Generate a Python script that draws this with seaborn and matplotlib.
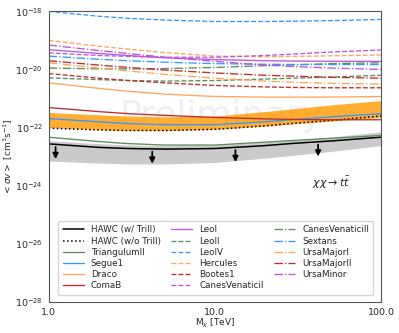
import numpy as np
import pandas as pd
import matplotlib
matplotlib.use("Agg")
import matplotlib.pyplot as plt
import matplotlib.ticker as mticker
import seaborn as sns

# masses in TeV
mass = [1.0, 2.0, 3.0, 5.0, 10.0, 20.0, 30.0, 50.0, 100.0]

# log10(<sigma v>) limits
hawc_trill = [-22.56, -22.68, -22.72, -22.74, -22.72, -22.62, -22.54, -22.46, -22.33]
hawc_trill_lo = [-23.15, -23.22, -23.25, -23.25, -23.2, -23.05, -22.95, -22.82, -22.62]
hawc_trill_hi = [-22.45, -22.55, -22.6, -22.62, -22.6, -22.5, -22.42, -22.32, -22.15]
hawc_notrill = [-22.02, -22.08, -22.1, -22.1, -22.06, -21.94, -21.85, -21.75, -21.6]
draco_lo = [-22.0, -22.07, -22.1, -22.1, -22.06, -21.95, -21.87, -21.78, -21.65]
draco_hi = [-21.48, -21.56, -21.6, -21.63, -21.6, -21.45, -21.35, -21.22, -21.07]

dwarfs = ["TriangulumII", "Segue1", "Draco", "ComaB", "LeoI", "LeoII", "LeoIV",
          "Hercules", "Bootes1", "CanesVenaticiI", "CanesVenaticiII", "Sextans",
          "UrsaMajorI", "UrsaMajorII", "UrsaMinor"]
dwarf_limits = {
    "TriangulumII": [-22.33, -22.48, -22.55, -22.6, -22.6, -22.5, -22.44, -22.37, -22.27],
    "Segue1": [-21.69, -21.8, -21.86, -21.9, -21.9, -21.8, -21.72, -21.63, -21.52],
    "Draco": [-20.46, -20.65, -20.75, -20.85, -20.93, -20.95, -20.95, -20.95, -20.93],
    "ComaB": [-21.31, -21.45, -21.52, -21.58, -21.65, -21.7, -21.72, -21.73, -21.73],
    "LeoI": [-19.32, -19.45, -19.52, -19.6, -19.66, -19.7, -19.71, -19.72, -19.72],
    "LeoII": [-20.29, -20.35, -20.38, -20.4, -20.38, -20.33, -20.3, -20.26, -20.2],
    "LeoIV": [-18.0, -18.17, -18.24, -18.3, -18.35, -18.35, -18.34, -18.32, -18.28],
    "Hercules": [-19.0, -19.2, -19.3, -19.42, -19.54, -19.56, -19.55, -19.53, -19.5],
    "Bootes1": [-20.14, -20.3, -20.38, -20.46, -20.55, -20.6, -20.62, -20.63, -20.63],
    "CanesVenaticiI": [-19.43, -19.52, -19.55, -19.58, -19.58, -19.52, -19.47, -19.4, -19.33],
    "CanesVenaticiII": [-19.95, -19.98, -19.98, -19.97, -19.93, -19.87, -19.84, -19.8, -19.77],
    "Sextans": [-19.54, -19.65, -19.7, -19.75, -19.8, -19.82, -19.83, -19.83, -19.83],
    "UrsaMajorI": [-19.77, -19.95, -20.05, -20.17, -20.3, -20.4, -20.44, -20.48, -20.5],
    "UrsaMajorII": [-19.7, -19.85, -19.93, -20.02, -20.12, -20.2, -20.23, -20.27, -20.3],
    "UrsaMinor": [-19.16, -19.35, -19.45, -19.58, -19.72, -19.85, -19.9, -19.95, -20.0],
}
arrow_mass = [1.1, 4.2, 13.3, 41.8]
y_ticks = [1e-28, 1e-26, 1e-24, 1e-22, 1e-20, 1e-18]
x_ticks = [1.0, 10.0, 100.0]

green, blue, orange, red, purple = "#5b8c5a", "#3399ff", "#ffa55c", "#bf2b2b", "#bb55dd"
styles = {
    "TriangulumII": (green, "-"), "Segue1": (blue, "-"), "Draco": (orange, "-"),
    "ComaB": (red, "-"), "LeoI": (purple, "-"), "LeoII": (green, "--"),
    "LeoIV": (blue, "--"), "Hercules": (orange, "--"), "Bootes1": (red, "--"),
    "CanesVenaticiI": (purple, "--"), "CanesVenaticiII": (green, "-."),
    "Sextans": (blue, "-."), "UrsaMajorI": (orange, "-."), "UrsaMajorII": (red, "-."),
    "UrsaMinor": (purple, "-."),
}

# smooth curves through the read points (log-log)
fine = np.logspace(0, 2, 120)


def smooth(vals):
    return 10 ** np.interp(np.log10(fine), np.log10(mass), vals)


sns.set_style("white")
plt.rcParams["font.family"] = ["DejaVu Sans"]
fig, ax = plt.subplots(figsize=(3.99, 3.33), dpi=100)

ax.fill_between(fine, smooth(hawc_trill_lo), smooth(hawc_trill_hi), color="#bdbdbd", alpha=0.8, lw=0)
ax.fill_between(fine, smooth(draco_lo), smooth(draco_hi), color="#ff9900", alpha=0.8, lw=0)

sns.lineplot(x=fine, y=smooth(hawc_trill), ax=ax, color="black", lw=1.1, label="HAWC (w/ Trill)")
sns.lineplot(x=fine, y=smooth(hawc_notrill), ax=ax, color="black", lw=1.1, ls=":", label="HAWC (w/o Trill)")
for name in dwarfs:
    c, ls = styles[name]
    sns.lineplot(x=fine, y=smooth(dwarf_limits[name]), ax=ax, color=c, ls=ls, lw=0.95, label=name)

arr_y = 10 ** np.interp(np.log10(arrow_mass), np.log10(mass), hawc_trill)
for xm, ym in zip(arrow_mass, arr_y):
    ax.annotate("", xy=(xm, ym / 4.0), xytext=(xm, ym),
                arrowprops=dict(arrowstyle="-|>", color="black", lw=1.3, mutation_scale=8))

ax.set_xscale("log")
ax.set_yscale("log")
ax.set_xlim(1, 100)
ax.set_ylim(1e-28, 1e-18)
ax.set_xticks(x_ticks)
ax.set_xticklabels([f"{v:.1f}" for v in x_ticks])
ax.xaxis.set_minor_formatter(mticker.NullFormatter())
ax.set_yticks(y_ticks)
ax.yaxis.set_major_formatter(mticker.LogFormatterSciNotation())
ax.yaxis.set_minor_locator(mticker.LogLocator(base=10, subs=np.arange(1, 10), numticks=30))
ax.yaxis.set_minor_formatter(mticker.NullFormatter())
ax.tick_params(which="both", direction="out", labelsize=6.8, pad=1.5)
ax.tick_params(which="major", length=2.5, width=0.7)
ax.tick_params(which="minor", length=1.5, width=0.5)
for s in ax.spines.values():
    s.set_color("#555555")
    s.set_linewidth(0.8)

ax.set_xlabel(r"M$_\chi$ [TeV]", fontsize=6.5, labelpad=0.5)
ax.set_ylabel(r"$<\sigma v>$ [cm$^3$s$^{-1}$]", fontsize=6.5, labelpad=0.5)

ax.text(50, 1.3e-24, r"$\chi\chi \rightarrow t\bar{t}$", fontsize=8, ha="center", va="center")
ax.text(0.52, 0.64, "Preliminary", transform=ax.transAxes, fontsize=26, color="#e2e2e2",
        alpha=0.55, ha="center", va="center", zorder=0)

ax.legend(loc="lower right", ncol=3, fontsize=6.3, frameon=True, handlelength=2.4,
          borderpad=0.5, labelspacing=0.25, columnspacing=1.2, bbox_to_anchor=(0.99, 0.01))

fig.subplots_adjust(left=0.122, right=0.955, top=0.966, bottom=0.093)
fig.savefig("out.png", dpi=100)
